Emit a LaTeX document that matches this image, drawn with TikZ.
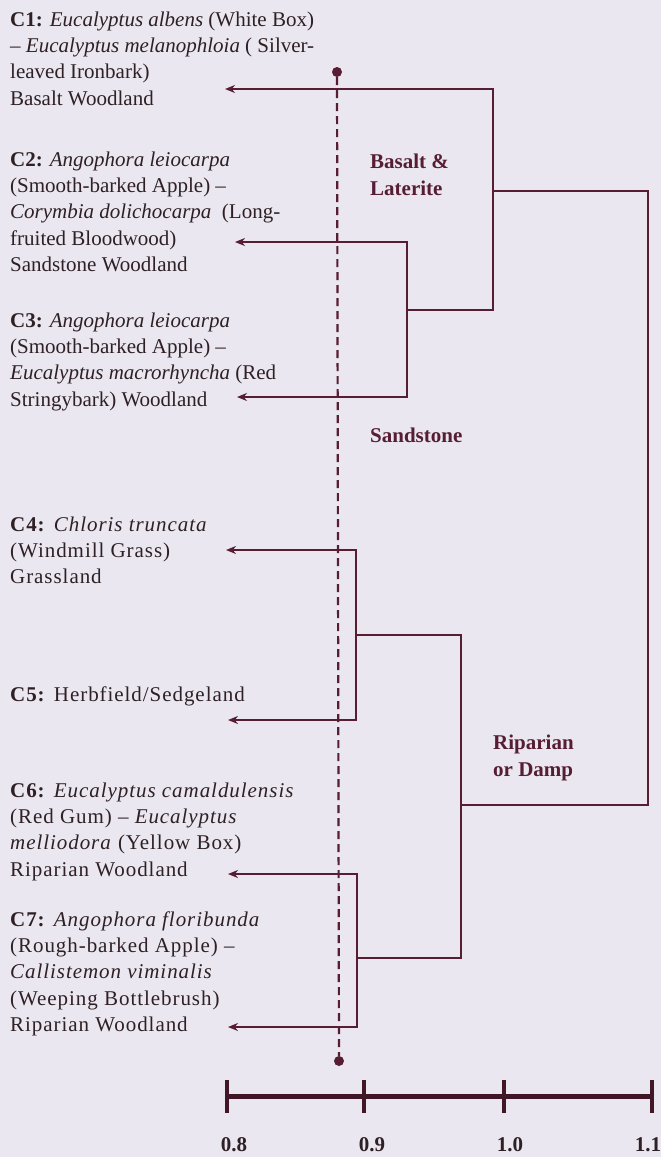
\documentclass[tikz,border=0pt]{standalone}
\usepackage{fontspec}
\setmainfont{Liberation Serif}
\newfontfamily\spacedserif{Liberation Serif}[LetterSpace=4.5]
\usetikzlibrary{arrows.meta}
\definecolor{paper}{HTML}{EAE7F0}
\definecolor{ink}{HTML}{561D33}
\definecolor{txt}{HTML}{2E2024}
\begin{document}
\begin{tikzpicture}[x=1pt,y=-1pt,
  cbox/.style={anchor=north west,align=left,inner sep=0pt,text=txt,
    font=\fontsize{21}{26.4}\selectfont},
  cboxw/.style={cbox,font=\fontsize{21}{26.4}\spacedserif},
  grp/.style={anchor=base west,align=left,inner sep=0pt,text=ink,
    font=\fontsize{21}{26.4}\selectfont\bfseries},
  tick/.style={anchor=base,inner sep=0pt,text=txt,
    font=\fontsize{21}{26.4}\selectfont\bfseries},
  link/.style={draw=ink,line width=2pt},
  arr/.style={link,-{Stealth[length=10pt,width=8pt]}},
  dot/.style={circle,fill=ink,inner sep=0pt,minimum size=10pt},
  cut/.style={draw=ink,line width=2.2pt,dash pattern=on 8pt off 5pt},
  bar/.style={draw=ink!75!black,line width=5pt}]

% page
\fill[paper] (0,0) rectangle (661,1157);
\useasboundingbox (0,0) rectangle (661,1157);

% community descriptions
\node[cbox] (c1) at (10,7.5) {\strut\textbf{C1:} \textit{Eucalyptus albens} (White Box)\\
  \textendash\ \textit{Eucalyptus melanophloia} ( Silver-\\ leaved Ironbark)\\ Basalt Woodland};
\node[cbox] (c2) at (10,147.5) {\strut\textbf{C2:} \textit{Angophora leiocarpa}\\
  (Smooth-barked Apple) \textendash\\ \textit{Corymbia dolichocarpa}\ \ (Long-\\ fruited Bloodwood)\\ Sandstone Woodland};
\node[cbox] (c3) at (10,308.5) {\strut\textbf{C3:} \textit{Angophora leiocarpa}\\
  (Smooth-barked Apple) \textendash\\ \textit{Eucalyptus macrorhyncha} (Red\\ Stringybark) Woodland};
\node[cboxw] (c4) at (10,512.5) {\strut\textbf{C4:} \textit{Chloris truncata}\\
  (Windmill Grass)\\ Grassland};
\node[cboxw] (c5) at (10,682.5) {\strut\textbf{C5:} Herbfield/Sedgeland};
\node[cboxw] (c6) at (10,778.5) {\strut\textbf{C6:} \textit{Eucalyptus camaldulensis}\\
  (Red Gum) \textendash\ \textit{Eucalyptus}\\ \textit{melliodora} (Yellow Box)\\ Riparian Woodland};
\node[cboxw] (c7) at (10,907.5) {\strut\textbf{C7:} \textit{Angophora floribunda}\\
  (Rough-barked Apple) \textendash\\ \textit{Callistemon viminalis}\\ (Weeping Bottlebrush)\\ Riparian Woodland};

% arrow tips beside each description
\coordinate (t1) at (225,89);
\coordinate (t2) at (235,242);
\coordinate (t3) at (237,397);
\coordinate (t4) at (226,550);
\coordinate (t5) at (228,720);
\coordinate (t6) at (228,874);
\coordinate (t7) at (228,1027);

% cluster joins
\coordinate (n23)  at (407,310);
\coordinate (n123) at (493,191);
\coordinate (root) at (648,500);
\coordinate (nR)   at (461,805);
\coordinate (n45)  at (356,635);
\coordinate (n67)  at (357,958);

% dendrogram
\draw[arr] (n23) |- (t2);
\draw[arr] (n23) |- (t3);
\draw[arr] (n123) |- (t1);
\draw[link] (n123) |- (n23);
\draw[link] (root) |- (n123);
\draw[link] (root) |- (nR);
\draw[link] (nR) |- (n45);
\draw[link] (nR) |- (n67);
\draw[arr] (n45) |- (t4);
\draw[arr] (n45) |- (t5);
\draw[arr] (n67) |- (t6);
\draw[arr] (n67) |- (t7);

% group labels
\node[grp] (g1) at (370,168) {Basalt \&};
\node[grp] (g2) at (370,195) {Laterite};
\node[grp] (g3) at (370,442) {Sandstone};
\node[grp] (g4) at (493,749) {Riparian};
\node[grp] (g5) at (493,776) {or Damp};

% cut-off level
\node[dot] (dtop) at (337,72) {};
\node[dot] (dbot) at (339,1061) {};
\draw[cut] (dtop) -- (dbot);

% similarity scale
\coordinate (s08) at (227,1096);
\coordinate (s09) at (364,1096);
\coordinate (s10) at (504,1096);
\coordinate (s11) at (652,1096);
\draw[bar] (s08) -- (s11);
\foreach \s in {s08,s09,s10,s11}
  \draw[ink!75!black,line width=4.5pt] ([yshift=-16.5pt]\s) -- ([yshift=16.5pt]\s);
\node[tick] (l08) at (234,1151) {0.8};
\node[tick] (l09) at (372,1151) {0.9};
\node[tick] (l10) at (510,1151) {1.0};
\node[tick] (l11) at (648,1151) {1.1};
\end{tikzpicture}
\end{document}
